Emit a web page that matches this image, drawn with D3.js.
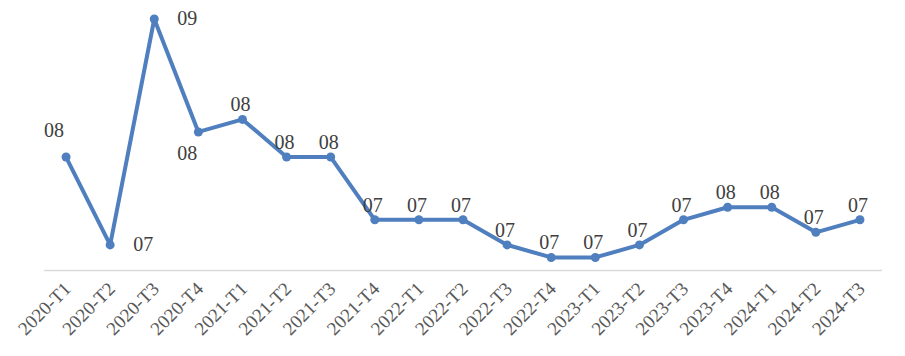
<!DOCTYPE html>
<html><head><meta charset="utf-8">
<script src="https://cdn.jsdelivr.net/npm/d3@7"></script>
<style>body{margin:0;background:#fff}svg{display:block}</style>
</head><body>
<svg id="c" width="905" height="356"></svg>
<script>
const categories = ["2020-T1","2020-T2","2020-T3","2020-T4","2021-T1","2021-T2","2021-T3","2021-T4","2022-T1","2022-T2","2022-T3","2022-T4","2023-T1","2023-T2","2023-T3","2023-T4","2024-T1","2024-T2","2024-T3"];
const values = [7.9,7.2,9.0,8.1,8.2,7.9,7.9,7.4,7.4,7.4,7.2,7.1,7.1,7.2,7.4,7.5,7.5,7.3,7.4];
const labelPlacement = ["leftAbove","right","right","below","above","above","above","above","above","above","above","above","above","above","above","above","above","above","above"];
const yDomain = [7, 9];

(function(){
const svg = d3.select("#c");
const mL = 44, mR = 882, mT = 19, mB = 270;
const x = d3.scaleBand().domain(categories).range([mL, mR]);
const y = d3.scaleLinear().domain(yDomain).range([mB, mT]);
const cx = d => x(d) + x.bandwidth()/2;
const color = "#4f7fbe";

svg.append("line").attr("x1", mL).attr("x2", mR).attr("y1", mB+0.5).attr("y2", mB+0.5)
  .attr("stroke", "#d9d9d9").attr("stroke-width", 1.3);

const gx = svg.append("g");
gx.selectAll("text").data(categories).join("text")
  .attr("transform", d => `translate(${cx(d)+6},${mB+20}) rotate(-45)`)
  .attr("text-anchor", "end")
  .attr("font-family", "Liberation Serif, serif").attr("font-size", 19).attr("fill", "#595959")
  .text(d => d);

const line = d3.line().x((d,i) => cx(categories[i])).y(d => y(d));
svg.append("path").datum(values).attr("d", line).attr("fill", "none")
  .attr("stroke", color).attr("stroke-width", 4).attr("stroke-linejoin", "round");
svg.selectAll("circle.pt").data(values).join("circle").attr("class","pt")
  .attr("cx", (d,i) => cx(categories[i])).attr("cy", d => y(d)).attr("r", 4.5).attr("fill", color);

const fmt = v => String(Math.round(v)).padStart(2, "0");
const off = {
  above: {dx: -2, dy: -15, anchor: "middle"},
  below: {dx: -11, dy: 21, anchor: "middle"},
  right: {dx: 23, dy: -1, anchor: "start"},
  leftAbove: {dx: -12, dy: -27, anchor: "middle"}
};
svg.selectAll("text.lbl").data(values).join("text").attr("class","lbl")
  .attr("x", (d,i) => cx(categories[i]) + off[labelPlacement[i]].dx)
  .attr("y", (d,i) => y(d) + off[labelPlacement[i]].dy)
  .attr("text-anchor", (d,i) => off[labelPlacement[i]].anchor)
  .attr("dominant-baseline", "central")
  .attr("font-family", "Liberation Serif, serif").attr("font-size", 20).attr("fill", "#404040")
  .text(d => fmt(d));
})();
</script>
</body></html>
